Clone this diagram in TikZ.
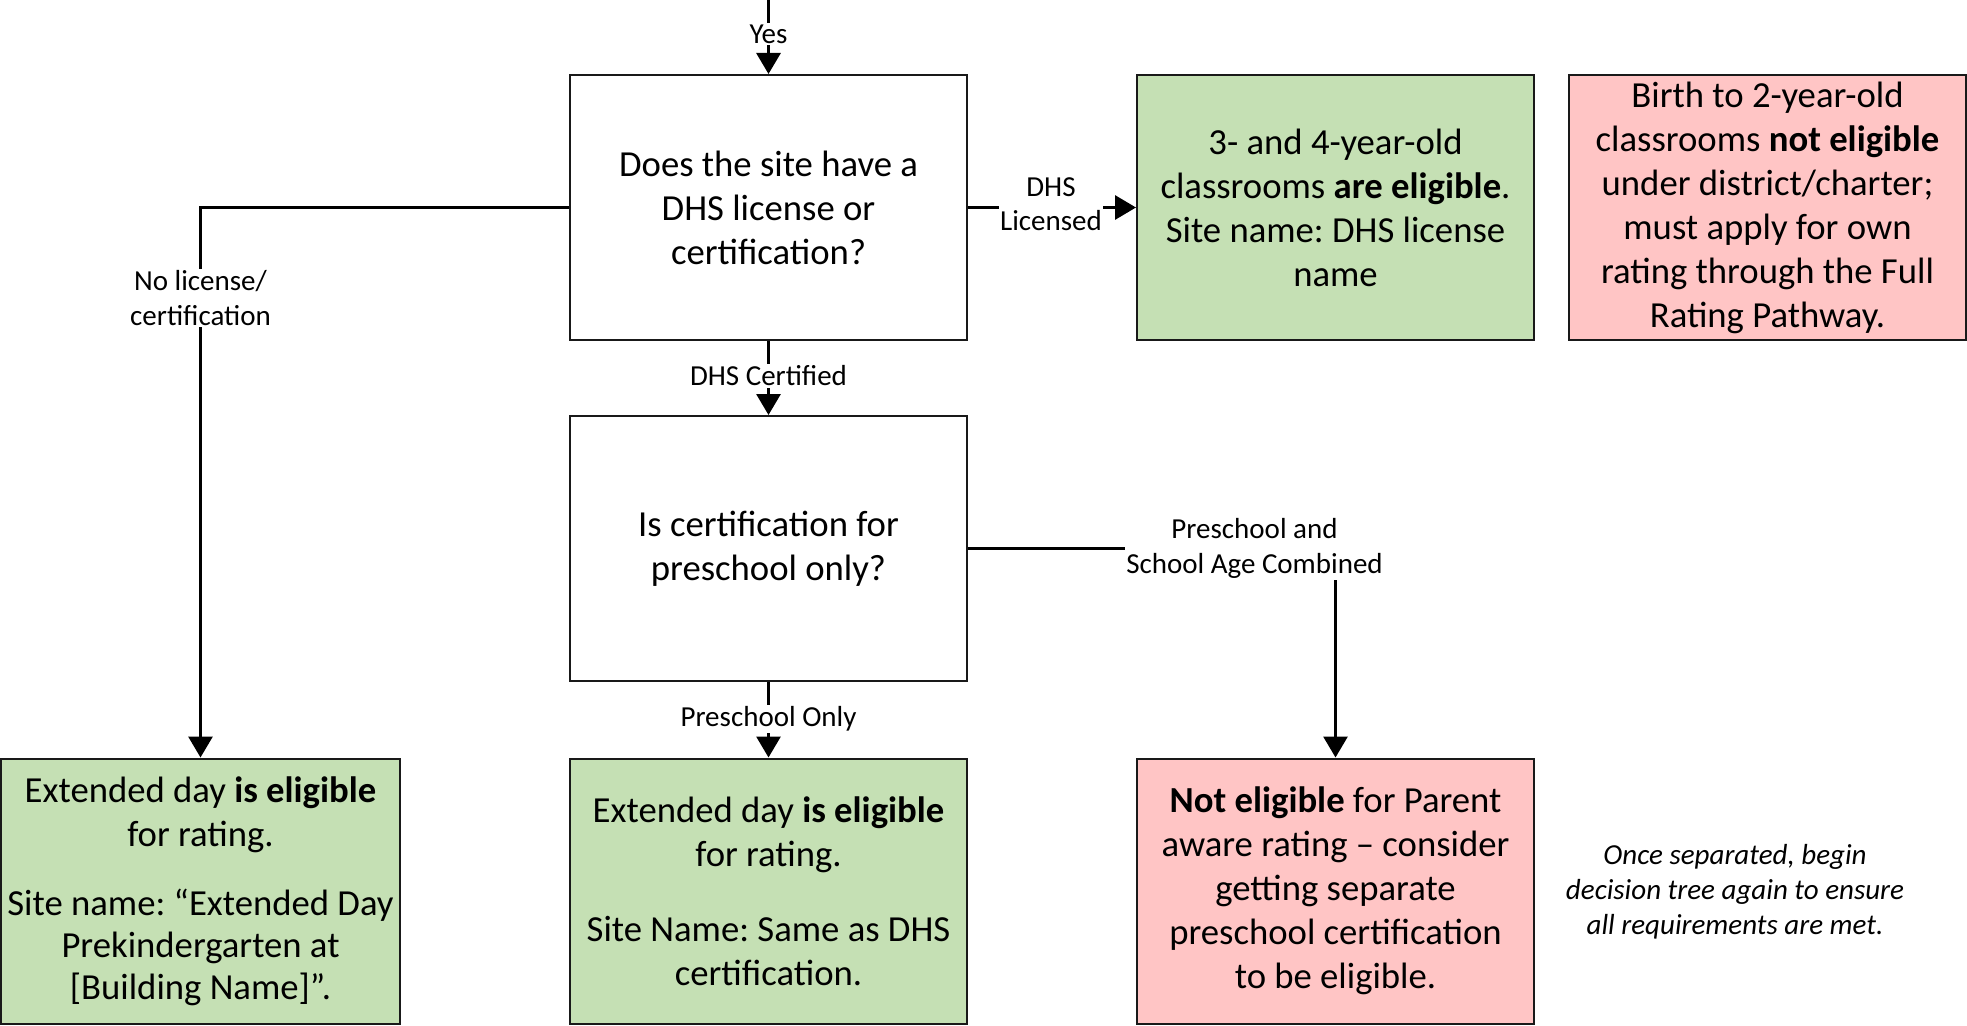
\documentclass[tikz,border=0pt]{standalone}
\usepackage{fontspec}
\setmainfont{Carlito}
\usetikzlibrary{arrows.meta}
\definecolor{gfill}{HTML}{C5E0B4}
\definecolor{pfill}{HTML}{FFC5C5}
\frenchspacing
\begin{document}
\begin{tikzpicture}[x=1pt,y=-1pt,
  box/.style={draw=black!90, line width=2pt, minimum width=397pt, minimum height=265pt, align=center, inner sep=0pt, font=\fontsize{36.7}{44}\selectfont},
  gbox/.style={box, fill=gfill},
  pbox/.style={box, fill=pfill},
  lbl/.style={fill=white, align=center, inner sep=1.5pt, font=\fontsize{29}{34.5}\selectfont},
  arr/.style={line width=3pt, -{Triangle[width=24pt,length=21pt]}}]
\useasboundingbox (0,0) rectangle (1967,1025);

% boxes
\node[box] (q1) at (768.5,207.5) {Does the site have a\\DHS license or\\certification?};
\node[box] (q2) at (768.5,548.5) {Is certification for\\preschool only?};
\node[gbox] (g1) at (1335.5,207.5) {3- and 4-year-old\\classrooms \textbf{are eligible}.\\Site name: DHS license\\name};
\node[pbox] (p1) at (1767.5,207.5) {Birth to 2-year-old\\classrooms \textbf{not eligible}\\under district/charter;\\must apply for own\\rating through the Full\\Rating Pathway.};
\node[gbox, minimum width=399pt] (gl) at (200.5,891) {Extended day \textbf{is eligible}\\for rating.\\[25pt]Site name: \textquotedblleft Extended Day\\[-2pt]Prekindergarten at\\[-2pt][Building Name]\textquotedblright.};
\node[gbox] (gm) at (768.5,891) {Extended day \textbf{is eligible}\\for rating.\\[31pt]Site Name: Same as DHS\\certification.};
\node[pbox] (pb) at (1335.5,891) {\textbf{Not eligible} for Parent\\aware rating -- consider\\getting separate\\preschool certification\\to be eligible.};
\node[align=center, font=\fontsize{29}{35}\selectfont\itshape] (note) at (1735,892) {Once separated, begin\\decision tree again to ensure\\all requirements are met.};

% connectors
\coordinate (top) at (768.5,0);
\draw[arr] (top) -- (q1.north);
\draw[arr] (q1.east) -- (g1.west);
\draw[arr] (q1.south) -- (q2.north);
\draw[arr] (q2.south) -- (gm.north);
\draw[arr] (q1.west) -| (gl.north);
\draw[arr] (q2.east) -| (pb.north);

% connector labels
\node[lbl] (lyes) at (768.5,34) {Yes};
\node[lbl] (llic) at (1051,204) {DHS\\Licensed};
\node[lbl] (lcert) at (768.5,376) {DHS Certified};
\node[lbl] (lpre) at (768.5,719) {Preschool Only};
\node[lbl] (lno) at (200.5,298) {No license/\\certification};
\node[lbl] (lcomb) at (1254.5,548.5) {Preschool and\\School Age Combined};
\end{tikzpicture}
\end{document}
